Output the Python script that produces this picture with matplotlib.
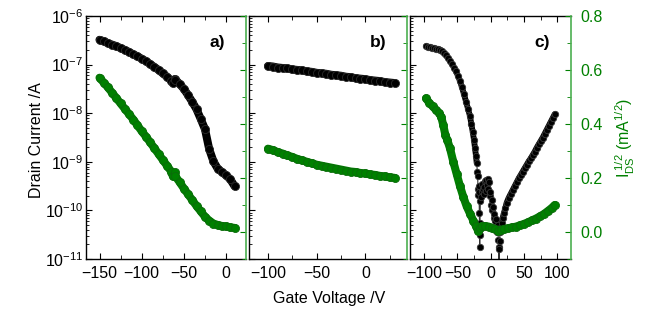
import numpy as np
import matplotlib
matplotlib.use("Agg")
import matplotlib.pyplot as plt
from matplotlib.ticker import MultipleLocator, FixedLocator, LogFormatterSciNotation, NullFormatter

plt.rcParams['font.family'] = ['Liberation Sans', 'DejaVu Sans']
plt.rcParams['mathtext.fontset'] = 'custom'
plt.rcParams['mathtext.rm'] = 'Liberation Sans'
plt.rcParams['mathtext.it'] = 'Liberation Sans:italic'
plt.rcParams['mathtext.bf'] = 'Liberation Sans:bold'
plt.rcParams['mathtext.default'] = 'regular'

# ---------------- data (currents stored as log10(I / A)) ----------------
# panel a)
va = [-150, -145, -140, -135, -130, -125, -120, -115, -110, -105, -100, -95, -90, -85,
      -80, -75, -70, -65, -63, -61, -60, -55, -50, -45, -40, -35, -30, -25, -20, -15,
      -10, -5, 0, 5, 10]
a_black_log = [-6.49, -6.52, -6.56, -6.59, -6.62, -6.66, -6.70, -6.74, -6.79, -6.83,
               -6.88, -6.93, -6.99, -7.05, -7.11, -7.18, -7.25, -7.33, -7.38, -7.30,
               -7.31, -7.40, -7.50, -7.63, -7.77, -7.92, -8.12, -8.33, -8.74, -8.99,
               -9.14, -9.21, -9.28, -9.36, -9.50]
a_green_log = [-7.27, -7.37, -7.47, -7.58, -7.69, -7.80, -7.91, -8.02, -8.13, -8.25,
               -8.37, -8.48, -8.60, -8.72, -8.84, -8.96, -9.08, -9.20, -9.30, -9.22,
               -9.30, -9.42, -9.55, -9.67, -9.79, -9.91, -10.02, -10.13, -10.21, -10.27,
               -10.30, -10.32, -10.33, -10.35, -10.36]

# panel b)
vb = [-100, -95, -90, -85, -80, -75, -70, -65, -60, -55, -50, -45, -40, -35, -30,
      -25, -20, -15, -10, -5, 0, 5, 10, 15, 20, 25, 30]
b_black_log = [-7.03, -7.04, -7.06, -7.07, -7.08, -7.10, -7.11, -7.12, -7.14, -7.15,
               -7.17, -7.18, -7.19, -7.21, -7.22, -7.23, -7.25, -7.26, -7.28, -7.29,
               -7.30, -7.32, -7.33, -7.34, -7.36, -7.37, -7.38]
b_green_log = [-8.73, -8.76, -8.80, -8.83, -8.87, -8.90, -8.94, -8.97, -9.00, -9.03,
               -9.06, -9.08, -9.10, -9.12, -9.14, -9.16, -9.18, -9.20, -9.21, -9.23,
               -9.24, -9.26, -9.27, -9.29, -9.30, -9.32, -9.33]

# panel c) black : drain current (log axis)
vc_black = [-97, -94, -91, -88, -85, -82, -79, -76, -73, -70, -67, -64, -61, -58, -55,
            -52, -49, -46, -43, -40, -37, -34, -31, -29, -27, -25, -23.5, -22, -21,
            -20, -19.5, -19, -18.5, -18, -17.5, -17, -16.7, -16.4, -16, -15.5, -14.5,
            -13.5, -12.5, -11.5, -10.5, -9.5, -8.5, -7.5, -6.5, -5.5, -4.5, -3.5, -2.5,
            -1.5, -0.5, 0.5, 1.5, 2.5, 3.5, 4.5, 5.5, 6.5, 7.5, 8.5, 9.5, 10.5, 11.5,
            12, 12.5, 13, 13.5, 14, 15, 16.5, 18, 20, 22, 24, 27, 30, 33, 36, 39, 42,
            45, 48, 51, 54, 57, 60, 63, 66, 69, 72, 75, 78, 81, 84, 87, 90, 93, 96]
c_black_log = [-6.62, -6.63, -6.64, -6.65, -6.66, -6.67, -6.68, -6.69, -6.72, -6.76,
               -6.81, -6.86, -6.92, -6.99, -7.06, -7.14, -7.23, -7.34, -7.47, -7.61,
               -7.76, -7.91, -8.06, -8.22, -8.38, -8.55, -8.72, -8.88, -9.02,
               -9.20, -9.30, -9.55, -9.68, -9.62, -9.50, -10.05, -10.50, -10.76, -10.25,
               -9.80, -9.72, -9.60, -9.45, -9.55, -9.66, -9.52, -9.40, -9.60, -9.38,
               -9.48, -9.35, -9.55, -9.42, -9.70, -9.62, -9.88, -9.78, -10.00, -9.92,
               -10.15, -10.08, -10.22, -10.35, -10.18, -10.45, -10.30, -10.60, -10.75,
               -12.0, -10.80, -10.62, -10.45, -10.35, -10.25, -10.15, -10.05, -9.95,
               -9.84, -9.74, -9.66, -9.58, -9.50, -9.42, -9.34, -9.27, -9.20, -9.13,
               -9.06, -8.99, -8.93, -8.86, -8.79, -8.71, -8.64, -8.57, -8.50, -8.42,
               -8.34, -8.26, -8.18, -8.10, -8.02]

# panel c) green : sqrt(I_DS) in mA^1/2 (right linear axis)
vc_green = [-97, -92, -87, -82, -77, -74, -71, -68, -65, -61, -56, -51, -46, -41, -36,
            -31, -26, -22, -18.5, -16, -13, -8, -3, 2, 7, 11, 15, 20, 26, 32, 38, 44,
            50, 56, 62, 68, 74, 80, 86, 92, 96]
c_green_sqrt = [0.495, 0.478, 0.465, 0.452, 0.440, 0.425, 0.395, 0.360, 0.340, 0.310,
                0.260, 0.215, 0.170, 0.130, 0.095, 0.068, 0.042, 0.022, 0.002, 0.015,
                0.022, 0.022, 0.020, 0.015, 0.010, 0.005, 0.008, 0.011, 0.014, 0.017,
                0.020, 0.025, 0.030, 0.036, 0.043, 0.050, 0.058, 0.067, 0.078, 0.090,
                0.100]

panel_labels = ['a)', 'b)', 'c)']
xlims = [(-166, 23), (-120, 42.5), (-121, 120.5)]
xticks = [[-150, -100, -50, 0], [-100, -50, 0], [-100, -50, 0, 50, 100]]
log_major = [1e-11, 1e-10, 1e-9, 1e-8, 1e-7, 1e-6]

BLACK = '#000000'
GREEN = '#008000'
SPINE_GREEN = '#4caf50'

W, H = 666, 310
fig = plt.figure(figsize=(W / 100, H / 100), dpi=100)
top_px, bot_px = 16, 259
lefts = [86, 248.5, 410]
widths = [159.5, 158.2, 161]

minor_ticks = [m * d for d in log_major[:-1] for m in range(2, 10)]

fs = 11.5
axes = []
for i in range(3):
    ax = fig.add_axes([lefts[i] / W, (H - bot_px) / H, widths[i] / W, (bot_px - top_px) / H])
    ax.set_yscale('log')
    ax.set_ylim(1e-11, 1e-6)
    ax.set_xlim(*xlims[i])
    ax.set_xticks(xticks[i])
    ax.xaxis.set_minor_locator(MultipleLocator(25))
    ax.yaxis.set_major_locator(FixedLocator(log_major))
    ax.yaxis.set_major_formatter(LogFormatterSciNotation())
    ax.yaxis.set_minor_locator(FixedLocator(minor_ticks))
    ax.yaxis.set_minor_formatter(NullFormatter())
    ax.tick_params(axis='both', which='both', direction='in', labelsize=fs, colors=BLACK)
    ax.tick_params(axis='x', which='major', length=4, top=True, pad=5)
    ax.tick_params(axis='x', which='minor', length=3, top=True)
    ax.tick_params(axis='y', which='major', length=4, right=False, pad=2)
    ax.tick_params(axis='y', which='minor', length=2, right=False)
    if i > 0:
        ax.tick_params(axis='y', which='both', labelleft=False)
    ax.spines['right'].set_visible(False)
    for s in ['left', 'top', 'bottom']:
        ax.spines[s].set_linewidth(1.0)

    axr = ax.twinx()
    axr.set_ylim(-0.1, 0.8)
    axr.yaxis.set_major_locator(MultipleLocator(0.2))
    axr.yaxis.set_minor_locator(MultipleLocator(0.1))
    axr.tick_params(axis='y', which='both', direction='in', colors=GREEN,
                    labelsize=fs, pad=7)
    axr.tick_params(axis='y', which='major', length=4)
    axr.tick_params(axis='y', which='minor', length=3)
    axr.yaxis.set_major_formatter(plt.FuncFormatter(lambda v, p: f'{v:.1f}'))
    if i < 2:
        axr.tick_params(axis='y', which='both', labelright=False)
    axr.spines['right'].set_color(SPINE_GREEN)
    axr.spines['right'].set_linewidth(1.2)
    for s in ['left', 'top', 'bottom']:
        axr.spines[s].set_visible(False)
    axes.append((ax, axr))

    ax.text(0.87, 0.89, panel_labels[i], transform=ax.transAxes, ha='right', va='center',
            fontsize=12.5, fontweight='bold')


def band(axis, x, y, color, edge, ms=5.8):
    # thick round line under the markers so the dense sweep reads as a solid band
    axis.plot(x, y, color=color, linewidth=ms, solid_capstyle='round',
              solid_joinstyle='round')
    axis.plot(x, y, linestyle='none', marker='o', markersize=ms, color=color,
              markeredgecolor=edge, markeredgewidth=0.6)


ax, axr = axes[0]
band(ax, va, 10.0 ** np.array(a_green_log), GREEN, '#0b6b0b')
band(ax, va, 10.0 ** np.array(a_black_log), BLACK, '#2a2a2a')

ax, axr = axes[1]
band(ax, vb, 10.0 ** np.array(b_green_log), GREEN, '#0b6b0b')
band(ax, vb, 10.0 ** np.array(b_black_log), BLACK, '#2a2a2a')

ax, axr = axes[2]
vcb = np.array(vc_black)
icb = 10.0 ** np.array(c_black_log)
smooth1 = vcb <= -21
smooth2 = vcb >= 16
ax.plot(vcb, icb, color='#333333', linewidth=0.8)
ax.plot(vcb[smooth1], icb[smooth1], color=BLACK, linewidth=4.2,
        solid_capstyle='round', solid_joinstyle='round')
ax.plot(vcb[smooth2], icb[smooth2], color=BLACK, linewidth=4.2,
        solid_capstyle='round', solid_joinstyle='round')
ax.plot(vcb, icb, linestyle='none', marker='o', markersize=4.6,
        markerfacecolor=BLACK, markeredgecolor='#3a3a3a', markeredgewidth=0.6)
band(axr, vc_green, c_green_sqrt, GREEN, '#0b6b0b')
axr.set_ylabel(r'$I_{DS}^{\ 1/2}$ (mA$^{1/2}$)', color=GREEN, fontsize=fs, labelpad=8)

fig.text(36.5 / W, 1 - 140 / H, 'Drain Current /A', rotation=90, ha='center', va='center',
         fontsize=fs)
fig.text(329 / W, 1 - 299 / H, 'Gate Voltage /V', ha='center', va='center', fontsize=fs)

fig.savefig('out.png', dpi=100)
